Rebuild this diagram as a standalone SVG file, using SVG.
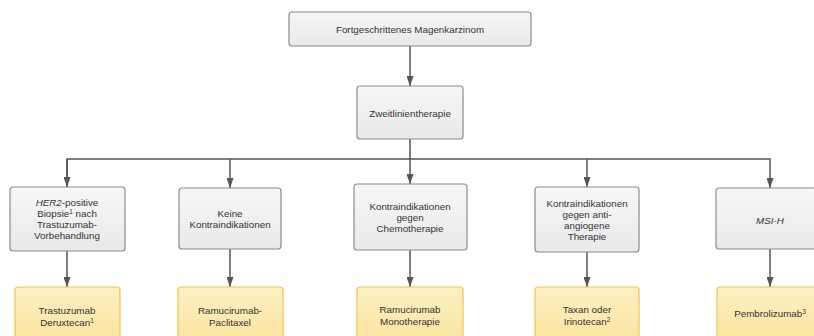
<svg xmlns="http://www.w3.org/2000/svg" width="814" height="336" viewBox="0 0 814 336">
<defs>
<linearGradient id="g" x1="0" y1="0" x2="0" y2="1"><stop offset="0" stop-color="#f7f7f7"/><stop offset="1" stop-color="#e9e9ea"/></linearGradient>
<linearGradient id="y" x1="0" y1="0" x2="0" y2="1"><stop offset="0" stop-color="#fdf0c4"/><stop offset="1" stop-color="#fbe39a"/></linearGradient>
<marker id="a" viewBox="0 0 10 7" refX="10" refY="3.5" markerWidth="10" markerHeight="7" markerUnits="userSpaceOnUse" orient="auto"><path d="M0,0 L10,3.5 L0,7 Z" fill="#555"/></marker>
<style>
.n{fill:url(#g);stroke:#8c8c8c;stroke-width:1.2}
.t{fill:url(#y);stroke:#f2c44c;stroke-width:1.2}
text{font-family:"Liberation Sans",Arial,sans-serif;font-size:9.8px;fill:#333;text-anchor:middle}
.c{fill:none;stroke:#555;stroke-width:1.5}
.s{font-size:6.5px}
</style>
</defs>
<g id="connectors">
<path class="c" d="M410,46 V86" marker-end="url(#a)"/>
<path class="c" d="M410,139 V159"/>
<path class="c" d="M67,187 V159 H770 V188" marker-end="url(#a)"/>
<path class="c" d="M67,159 V187" marker-end="url(#a)"/>
<path class="c" d="M230,159 V188" marker-end="url(#a)"/>
<path class="c" d="M410,159 V184" marker-end="url(#a)"/>
<path class="c" d="M587,159 V187" marker-end="url(#a)"/>
<path class="c" d="M67,251 V287" marker-end="url(#a)"/>
<path class="c" d="M230,249 V287" marker-end="url(#a)"/>
<path class="c" d="M410,250 V287" marker-end="url(#a)"/>
<path class="c" d="M587,252 V287" marker-end="url(#a)"/>
<path class="c" d="M770,249 V287" marker-end="url(#a)"/>
</g>
<g id="n0"><rect class="n" x="289" y="12" width="242" height="34" rx="3"/><text x="410" y="33">Fortgeschrittenes Magenkarzinom</text></g>
<g id="n1"><rect class="n" x="357" y="86" width="106" height="53" rx="3"/><text x="410" y="117">Zweitlinientherapie</text></g>
<g id="b1"><rect class="n" x="10" y="187" width="115" height="64" rx="3"/>
<text x="67" y="206"><tspan font-style="italic">HER2</tspan>-positive</text>
<text x="67" y="217">Biopsie<tspan class="s" dy="-3">1</tspan><tspan dy="3"> nach</tspan></text>
<text x="67" y="228">Trastuzumab-</text>
<text x="67" y="239">Vorbehandlung</text></g>
<g id="b2"><rect class="n" x="179" y="188" width="102" height="61" rx="3"/>
<text x="230" y="217">Keine</text><text x="230" y="228">Kontraindikationen</text></g>
<g id="b3"><rect class="n" x="354" y="184" width="113" height="66" rx="3"/>
<text x="410" y="210">Kontraindikationen</text><text x="410" y="221">gegen</text><text x="410" y="232">Chemotherapie</text></g>
<g id="b4"><rect class="n" x="535" y="187" width="104" height="65" rx="3"/>
<text x="587" y="207">Kontraindikationen</text><text x="587" y="218">gegen anti-</text><text x="587" y="229">angiogene</text><text x="587" y="240">Therapie</text></g>
<g id="b5"><rect class="n" x="716" y="188" width="108" height="61" rx="3"/>
<text x="770" y="224" font-style="italic">MSI-H</text></g>
<g id="t1"><rect class="t" x="15" y="287" width="105" height="60" rx="3"/>
<text x="67" y="314">Trastuzumab</text><text x="67" y="326">Deruxtecan<tspan class="s" dy="-3">1</tspan></text></g>
<g id="t2"><rect class="t" x="178" y="287" width="105" height="60" rx="3"/>
<text x="230" y="314">Ramucirumab-</text><text x="230" y="326">Paclitaxel</text></g>
<g id="t3"><rect class="t" x="357" y="287" width="106" height="60" rx="3"/>
<text x="410" y="313">Ramucirumab</text><text x="410" y="325">Monotherapie</text></g>
<g id="t4"><rect class="t" x="535" y="287" width="104" height="60" rx="3"/>
<text x="587" y="313">Taxan oder</text><text x="587" y="325">Irinotecan<tspan class="s" dy="-3">2</tspan></text></g>
<g id="t5"><rect class="t" x="717" y="287" width="107" height="60" rx="3"/>
<text x="770" y="317">Pembrolizumab<tspan class="s" dy="-3">3</tspan></text></g>
</svg>
